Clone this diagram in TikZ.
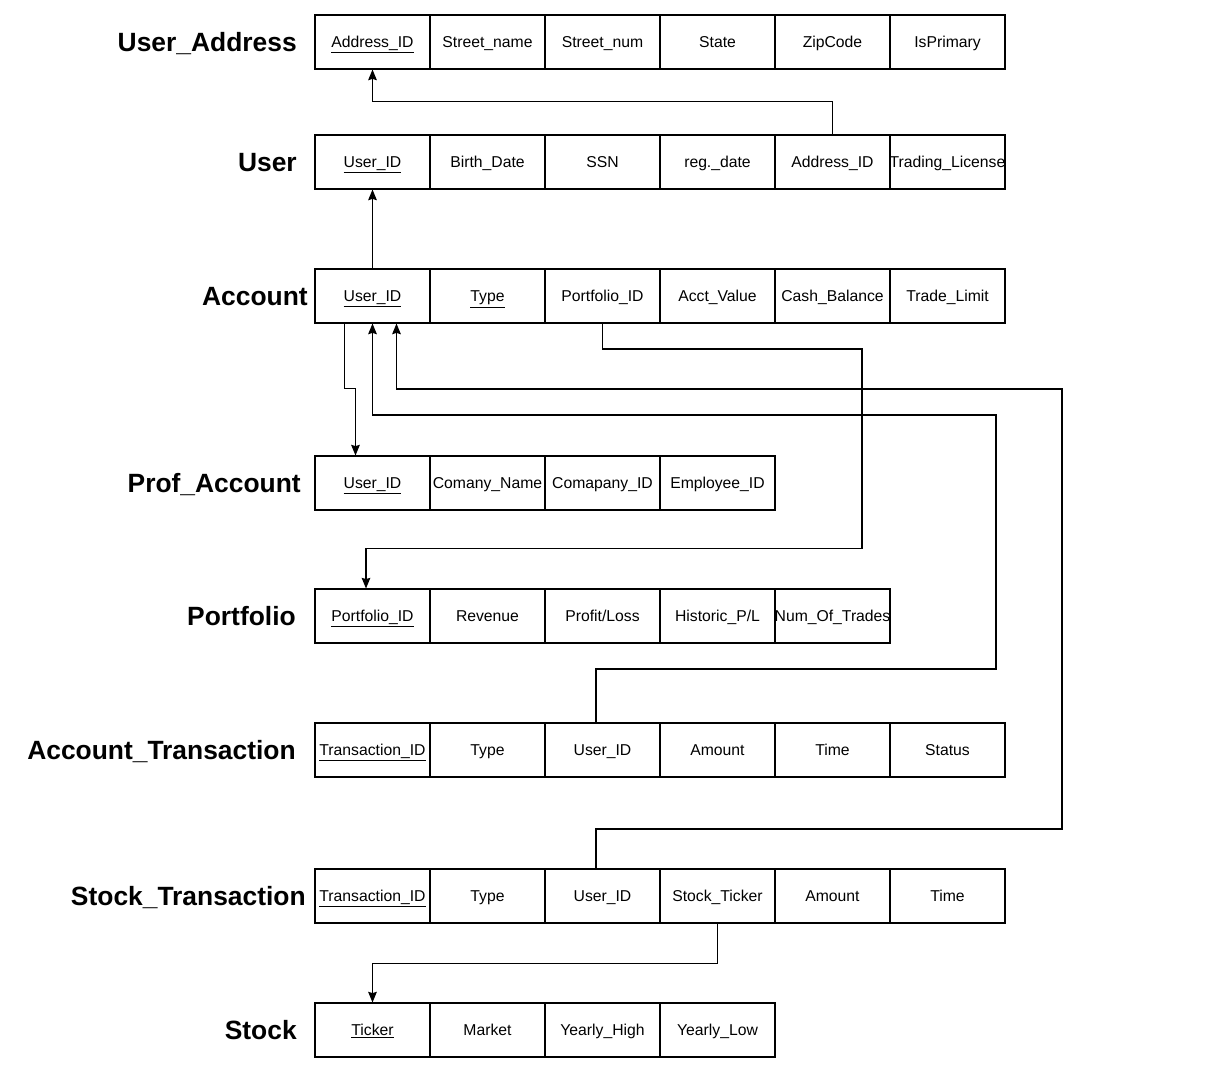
\documentclass[tikz,border=0pt]{standalone}
\usepackage{fontspec}
\setmainfont{Liberation Sans}
\usetikzlibrary{arrows.meta,calc}

% primary-key field
\newcommand\pkey[1]{\underline{#1}}

% one table row: prefix, y of row centre, list of field labels
\newcommand\tablerow[3]{%
  \foreach \t [count=\i] in {#3}
    \node[cell] (#1\i) at ({372.5+115*(\i-1)},#2) {\makebox[0pt]{\t}};%
}

\begin{document}
\begin{tikzpicture}[x=0.75pt,y=-0.75pt,
  cell/.style={draw, line width=0.8pt, minimum width=86.25pt, minimum height=40.5pt,
    inner sep=0pt, text height=8.45pt, text depth=0pt, font=\fontsize{11.8}{13}\selectfont},
  tname/.style={anchor=east, inner sep=0pt, text height=14.2pt, text depth=0pt,
    font=\fontsize{19.8}{22}\selectfont\bfseries},
  fk/.style={draw, line width=0.8pt, -{Stealth[length=8pt,width=6.5pt,inset=1pt]}}]
\useasboundingbox (0,0) rectangle (1208,1076);

% table names
\node[tname] (nUA) at (297,42)   {User\_Address};
\node[tname] (nU)  at (297,162)  {User};
\node[tname] (nA)  at (308,296)  {Account};
\node[tname] (nPA) at (301,483)  {Prof\_Account};
\node[tname] (nPO) at (296,616)  {Portfolio};
\node[tname] (nAT) at (296,750)  {Account\_Transaction};
\node[tname] (nST) at (306,896)  {Stock\_Transaction};
\node[tname] (nS)  at (297,1030) {Stock};

% tables
\tablerow{ua}{42}{\pkey{Address\_ID},Street\_name,Street\_num,State,ZipCode,IsPrimary}
\tablerow{u}{162}{\pkey{User\_ID},Birth\_Date,SSN,reg.\_date,Address\_ID,Trading\_License}
\tablerow{a}{296}{\pkey{User\_ID},\pkey{Type},Portfolio\_ID,Acct\_Value,Cash\_Balance,Trade\_Limit}
\tablerow{pa}{483}{\pkey{User\_ID},Comany\_Name,Comapany\_ID,Employee\_ID}
\tablerow{po}{616}{\pkey{Portfolio\_ID},Revenue,Profit/Loss,Historic\_P/L,Num\_Of\_Trades}
\tablerow{at}{750}{\pkey{Transaction\_ID},Type,User\_ID,Amount,Time,Status}
\tablerow{st}{896}{\pkey{Transaction\_ID},Type,User\_ID,Stock\_Ticker,Amount,Time}
\tablerow{s}{1030}{\pkey{Ticker},Market,Yearly\_High,Yearly\_Low}

% foreign-key references
\draw[fk] (u5.north) -- ++(0,-33) -| (ua1.south);
\draw[fk] (a1.north) -- (u1.south);
\draw[fk] ($(a1.south)+(-28,0)$) |- ($(pa1.north)+(-17,-67)$) -- ($(pa1.north)+(-17,0)$);
\draw[fk] (a3.south) |- (862,349) |- ($(po1.north)+(-6.5,-40)$) -- ($(po1.north)+(-6.5,0)$);
\draw[fk] ($(at3.north)+(-6.5,0)$) |- (996,669) -- (996,415) -| (a1.south);
\draw[fk] ($(st3.north)+(-6.5,0)$) |- (1062,829) -- (1062,389) -| ($(a1.south)+(24,0)$);
\draw[fk] (st4.south) -- ++(0,40) -| (s1.north);
\end{tikzpicture}
\end{document}
